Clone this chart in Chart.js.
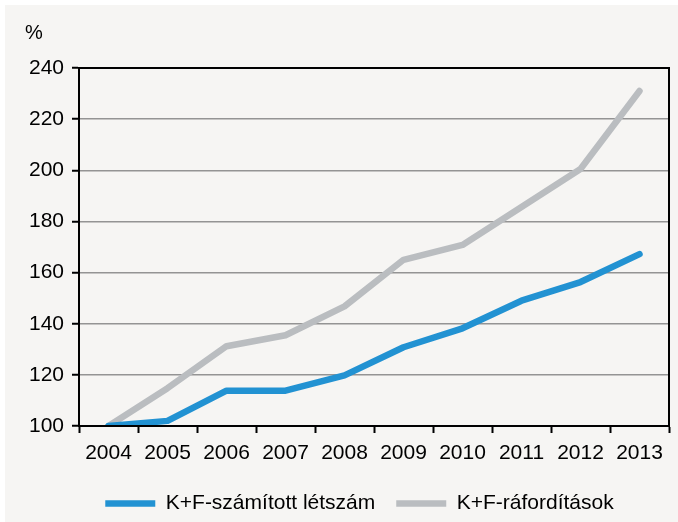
<!DOCTYPE html>
<html>
<head>
<meta charset="utf-8">
<script src="https://cdn.jsdelivr.net/npm/chart.js@4.4.1/dist/chart.umd.min.js"></script>
<style>
  html, body { margin: 0; padding: 0; background: #ffffff; overflow: hidden; }
  #wrap { position: absolute; left: 0; top: 0; width: 678px; height: 522px; }
</style>
</head>
<body>
<div id="wrap"><canvas id="kfChart" width="678" height="522"></canvas></div>
<script>
// adatok (2004 = 100%)
const evek = ['2004', '2005', '2006', '2007', '2008', '2009', '2010', '2011', '2012', '2013'];
const letszam = [100, 102, 113.8, 113.8, 119.8, 130.8, 138.2, 149, 156.3, 167.2];
const raforditas = [100, 114.8, 131.2, 135.5, 146.8, 165, 170.8, 185.6, 200.5, 231];
const yTickek = [100, 120, 140, 160, 180, 200, 220, 240];

const betu = 'Liberation Sans, Arial, sans-serif';

//---------------------Háttér, keret és a % felirat-----------------------
const hatterPlugin = {
  id: 'hatter',
  afterLayout(chart) {
    // a jelmagyarázat kicsit jobbra és lejjebb van
    chart.legend.left += 25;
    chart.legend.right += 25;
    chart.legend.top += 2;
    chart.legend.bottom += 2;
  },
  beforeDraw(chart) {
    const c = chart.ctx;
    c.save();
    c.fillStyle = '#ffffff';
    c.fillRect(0, 0, chart.width, chart.height);
    c.fillStyle = '#f6f5f3';
    c.fillRect(5, 5, chart.width - 5, chart.height - 5);
    c.restore();
  },
  afterDatasetsDraw(chart) {
    const a = chart.chartArea;
    const c = chart.ctx;
    c.save();
    c.strokeStyle = '#000';
    c.lineWidth = 2;
    c.strokeRect(a.left, a.top, a.right - a.left, a.bottom - a.top);
    c.fillStyle = '#000';
    c.font = '20px ' + betu;
    c.textBaseline = 'middle';
    c.fillText('%', 25, 33);
    c.restore();
  }
};

const ctx = document.getElementById('kfChart').getContext('2d');
const kfChart = new Chart(ctx, {
  type: 'line',
  data: {
    labels: evek,
    datasets: [{
      label: 'K+F-számított létszám',
      data: letszam,
      borderColor: '#2292d2',
      backgroundColor: '#2292d2',
      borderWidth: 6.5,
      borderCapStyle: 'round',
      borderJoinStyle: 'round',
      pointRadius: 0,
      tension: 0
    }, {
      label: 'K+F-ráfordítások',
      data: raforditas,
      borderColor: '#babdc0',
      backgroundColor: '#babdc0',
      borderWidth: 6.5,
      borderCapStyle: 'round',
      borderJoinStyle: 'round',
      pointRadius: 0,
      tension: 0
    }]
  },
  options: {
    responsive: false,
    animation: false,
    layout: { padding: { left: 0, right: 9, top: 68, bottom: 0 } },
    plugins: {
      tooltip: { enabled: false },
      legend: {
        position: 'bottom',
        labels: {
          usePointStyle: true,
          pointStyle: 'line',
          pointStyleWidth: 50,
          padding: 21,
          color: '#000',
          font: { family: betu, size: 21 }
        }
      }
    },
    scales: {
      x: {
        offset: true,
        afterFit(scale) { scale.height = 44; },
        grid: {
          offset: true,
          drawOnChartArea: false,
          drawTicks: true,
          tickLength: 7,
          tickColor: '#000',
          tickWidth: 2
        },
        border: { color: '#000', width: 2 },
        ticks: { color: '#000', padding: 8, maxRotation: 0, font: { family: betu, size: 21 } }
      },
      y: {
        min: 100,
        max: 240,
        afterFit(scale) { scale.width = 79; },
        afterBuildTicks(scale) { scale.ticks = yTickek.map(v => ({ value: v })); },
        grid: {
          color: '#949494',
          lineWidth: 1.5,
          tickLength: 7,
          tickColor: '#000',
          tickWidth: 2
        },
        border: { color: '#000', width: 2 },
        ticks: { color: '#000', padding: 8, font: { family: betu, size: 21 } }
      }
    }
  },
  plugins: [hatterPlugin]
});
</script>
</body>
</html>
